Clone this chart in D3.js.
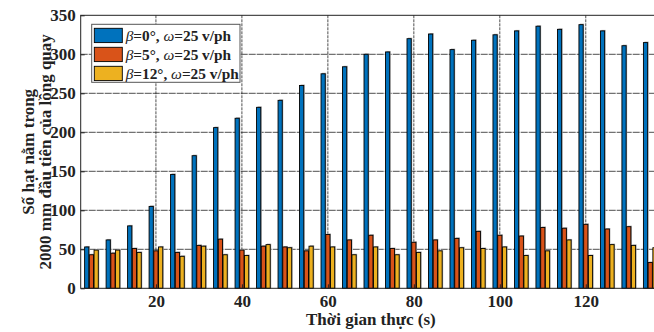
<!DOCTYPE html>
<html>
<head>
<meta charset="utf-8">
<script src="https://cdn.jsdelivr.net/npm/d3@7"></script>
<style>
  body { margin: 0; background: #fff; }
  svg { display: block; font-family: "Liberation Serif", "Times New Roman", serif; }
</style>
</head>
<body>
<svg id="chart" width="654" height="332"></svg>
<script>
// time (s)
var times = [5,10,15,20,25,30,35,40,45,50,55,60,65,70,75,80,85,90,95,100,105,110,115,120,125,130,135];
// particles in first 2000 mm of drum
var beta0  = [53,62,80,105,146,170,206,218,232,241,260,275,284,300,303,320,326,306,318,325,330,336,332,338,330,311,315];
var beta5  = [43,45,51,48,46,55,63,49,54,53,48,69,62,68,51,59,62,64,73,68,67,78,77,82,76,79,33];
var beta12 = [49,49,46,53,41,54,43,42,56,52,54,53,43,53,43,46,48,52,51,53,42,48,62,42,56,55,52];
var seriesNames = ["0", "5", "12"];
var colors = ["#0072BD", "#D95319", "#EDB120"];
var xTicks = [20,40,60,80,100,120];
var yTicks = [0,50,100,150,200,250,300,350];

var svg = d3.select("#chart"),
    margin = {top: 15.3, left: 80.7},
    plotRight = 661, plotBottom = 288.3;

var x = d3.scaleLinear().domain([2.5, 137.5]).range([margin.left, plotRight]);
var y = d3.scaleLinear().domain([0, 350]).range([plotBottom, margin.top]);

var series = [beta0, beta5, beta12];
var offsets = [-1.1, 0, 1.1];
var barW = 0.98;

// grid
var grid = svg.append("g").attr("stroke", "#222").attr("stroke-width", 0.8);
grid.selectAll(".gy").data(yTicks.slice(1, -1)).enter().append("line")
  .attr("stroke-dasharray", "7,1")
  .attr("x1", margin.left).attr("x2", plotRight)
  .attr("y1", d => y(d)).attr("y2", d => y(d));
grid.selectAll(".gx").data(xTicks).enter().append("line")
  .attr("stroke-dasharray", "3,1")
  .attr("x1", d => x(d)).attr("x2", d => x(d))
  .attr("y1", margin.top).attr("y2", plotBottom);

// bars
series.forEach(function(vals, si) {
  var g = svg.append("g");
  g.selectAll(".sh").data(vals).enter().append("rect")
    .attr("x", (d, i) => x(times[i] + offsets[si] - barW / 2) + 1)
    .attr("y", d => y(d) - 1)
    .attr("width", x(barW) - x(0))
    .attr("height", d => plotBottom - y(d) + 1)
    .attr("fill", "#aaa");
  g.selectAll(".bar").data(vals).enter().append("rect")
    .attr("x", (d, i) => x(times[i] + offsets[si] - barW / 2))
    .attr("y", d => y(d))
    .attr("width", x(barW) - x(0))
    .attr("height", d => plotBottom - y(d))
    .attr("fill", colors[si])
    .attr("stroke", "#000")
    .attr("stroke-width", 0.9);
});

// axes box
svg.append("rect")
  .attr("x", margin.left).attr("y", margin.top)
  .attr("width", plotRight - margin.left).attr("height", plotBottom - margin.top)
  .attr("fill", "none").attr("stroke", "#222").attr("stroke-width", 1);

var xAxis = svg.append("g")
  .attr("transform", "translate(0," + plotBottom + ")")
  .call(d3.axisBottom(x).tickValues(xTicks).tickSize(4).tickPadding(3));
var yAxis = svg.append("g")
  .attr("transform", "translate(" + margin.left + ",0)")
  .call(d3.axisLeft(y).tickValues(yTicks).tickSize(4).tickPadding(1));
[xAxis, yAxis].forEach(function(a) {
  a.select(".domain").remove();
  a.selectAll(".tick line").attr("stroke", "#222");
  a.selectAll("text").attr("font-family", "Liberation Serif").attr("font-weight", "bold")
    .attr("font-size", 17).attr("fill", "#222");
});
xAxis.selectAll(".tick line").attr("transform", "scale(1,-1)");
yAxis.selectAll(".tick line").attr("transform", "scale(-1,1)");

// axis labels
svg.append("text")
  .attr("x", (margin.left + plotRight) / 2).attr("y", 325)
  .attr("text-anchor", "middle").attr("font-weight", "bold").attr("font-size", 17).attr("fill", "#222")
  .text("Thời gian thực (s)");
var yl = svg.append("g")
  .attr("transform", "translate(0," + (margin.top + plotBottom) / 2 + ") rotate(-90)");
yl.append("text").attr("x", 0).attr("y", 34)
  .attr("text-anchor", "middle").attr("font-weight", "bold").attr("font-size", 17).attr("fill", "#222")
  .text("Số hạt nằm trong");
yl.append("text").attr("x", 0).attr("y", 51)
  .attr("text-anchor", "middle").attr("font-weight", "bold").attr("font-size", 17).attr("fill", "#222")
  .text("2000 mm đầu tiên của lồng quay");

// legend
var lg = svg.append("g");
lg.append("rect").attr("x", 91.7).attr("y", 24.3).attr("width", 148.3).attr("height", 58)
  .attr("fill", "#fff").attr("stroke", "#555").attr("stroke-width", 1);
seriesNames.forEach(function(n, i) {
  var yy = 28.3 + i * 19;
  lg.append("rect").attr("x", 94.3).attr("y", yy).attr("width", 28).attr("height", 14.3)
    .attr("fill", colors[i]).attr("stroke", "#000").attr("stroke-width", 0.9);
  var t = lg.append("text").attr("x", 125.7).attr("y", yy + 12.3)
    .attr("font-size", 15.3).attr("fill", "#222").attr("font-weight", "bold");
  t.append("tspan").attr("font-style", "italic").attr("font-weight", "normal").text("β");
  t.append("tspan").text("=" + n + "°, ");
  t.append("tspan").attr("font-style", "italic").attr("font-weight", "normal").text("ω");
  t.append("tspan").text("=25 v/ph");
});
</script>
</body>
</html>
